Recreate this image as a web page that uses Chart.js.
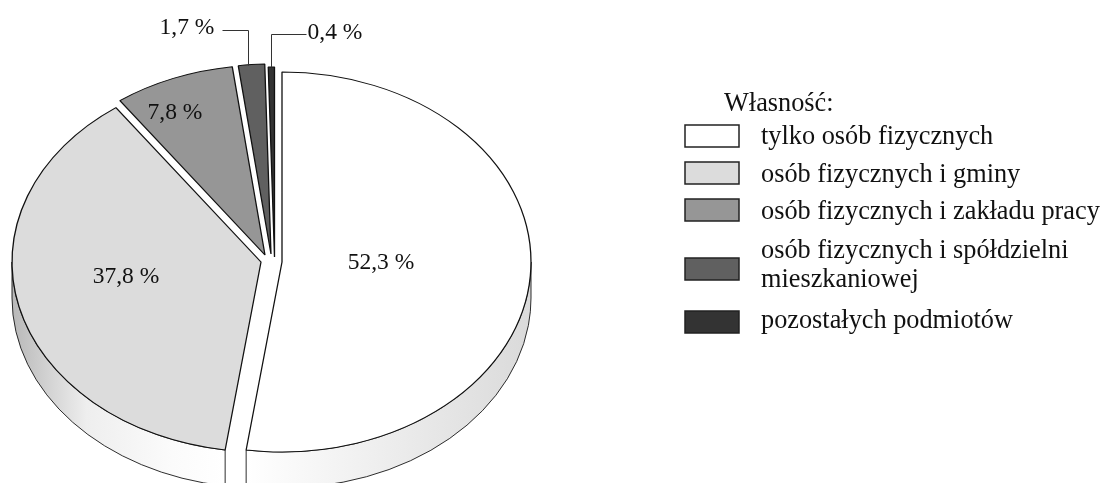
<!DOCTYPE html>
<html lang="pl">
<head>
<meta charset="utf-8">
<title>Własność</title>
<script src="https://cdn.jsdelivr.net/npm/chart.js@4/dist/chart.umd.min.js"></script>
<style>
    html, body { margin: 0; padding: 0; background: #fff; }
    canvas { display: block; }
</style>
</head>
<body>
<canvas id="pieChart" width="1107" height="483"></canvas>
<script>
const legendTitle = "Własność:";
const categories = [
    ["tylko osób fizycznych"],
    ["osób fizycznych i gminy"],
    ["osób fizycznych i zakładu pracy"],
    ["osób fizycznych i spółdzielni", "mieszkaniowej"],
    ["pozostałych podmiotów"]
];
const shares = [52.3, 37.8, 7.8, 1.7, 0.4];
const shareLabels = ["52,3 %", "37,8 %", "7,8 %", "1,7 %", "0,4 %"];
const sliceColors = ["#ffffff", "#dcdcdc", "#969696", "#606060", "#333333"];

// look of the pie: flattening, rim depth and how far each slice is pulled out
const flatten = 0.763;
const rimDepth = 36;
const pullX = [10.5, -10.5, -6.5, -0.5, 3];
const pullY = [1.5, 1.5, -5.5, -6.5, -3.5];
const rimStops = [
    [[0, "#ffffff"], [0.5, "#ededed"], [1, "#dadada"]],
    [[0, "#b8b8b8"], [0.18, "#d4d4d4"], [0.35, "#eeeeee"], [0.75, "#fbfbfb"], [1, "#ffffff"]]
];

const labelFont = "23.5px 'Liberation Serif'";
const legendFont = "26.3px 'Liberation Serif'";
const ink = "#111111";

// legend rows
const swatchTops = [125, 162, 199, 258, 311];
const rowBaselines = [[144], [182], [219], [258, 287], [328]];

// text beside or on the slices, [x, baseline]
const labelSpots = [[381, 269], [126, 283], [175, 119], [187, 34], [335, 39]];
const leaders = [null, null, null, [[222, 30], [248, 30], [248, 65]], [[306, 34], [271, 34], [271, 67]]];

function pivotY(chart) {
    return (chart.chartArea.top + chart.chartArea.bottom) / 2;
}

const flatPie = {
    id: "flatPie",
    afterDatasetsUpdate(chart) {
        chart.getDatasetMeta(0).data.forEach((arc, i) => {
            arc.x += pullX[i];
            arc.y += pullY[i] / flatten;
        });
    },
    beforeDatasetsDraw(chart) {
        const ctx = chart.ctx;
        const y0 = pivotY(chart);
        ctx.save();
        ctx.translate(0, y0);
        ctx.scale(1, flatten);
        ctx.translate(0, -y0);

        // rim of the two slices that reach the front of the pie
        chart.getDatasetMeta(0).data.forEach((arc, i) => {
            const from = Math.max(arc.startAngle, 0);
            const to = Math.min(arc.endAngle, Math.PI);
            if (to <= from) return;
            const x1 = arc.x + arc.outerRadius * Math.cos(from);
            const x2 = arc.x + arc.outerRadius * Math.cos(to);
            const fill = ctx.createLinearGradient(Math.min(x1, x2), 0, Math.max(x1, x2), 0);
            rimStops[i].forEach(stop => fill.addColorStop(stop[0], stop[1]));
            ctx.beginPath();
            ctx.arc(arc.x, arc.y, arc.outerRadius, from, to);
            ctx.arc(arc.x, arc.y + rimDepth / flatten, arc.outerRadius, to, from, true);
            ctx.closePath();
            ctx.fillStyle = fill;
            ctx.fill();
            ctx.strokeStyle = ink;
            ctx.lineWidth = 1;
            ctx.stroke();
        });
    },
    afterDatasetsDraw(chart) {
        chart.ctx.restore();
    },
    afterDraw(chart) {
        const ctx = chart.ctx;
        ctx.save();
        ctx.font = labelFont;
        ctx.fillStyle = ink;
        ctx.textBaseline = "alphabetic";

        ctx.textAlign = "center";
        shareLabels.forEach((text, i) => {
            ctx.fillText(text, labelSpots[i][0], labelSpots[i][1]);
        });

        ctx.strokeStyle = "#333333";
        ctx.lineWidth = 1;
        leaders.forEach(points => {
            if (!points) return;
            ctx.beginPath();
            points.forEach((p, j) => {
                if (j === 0) ctx.moveTo(p[0] + 0.5, p[1] + 0.5);
                else ctx.lineTo(p[0] + 0.5, p[1] + 0.5);
            });
            ctx.stroke();
        });

        ctx.font = legendFont;
        ctx.textAlign = "left";
        ctx.fillText(legendTitle, 724, 111);
        categories.forEach((lines, i) => {
            ctx.fillStyle = sliceColors[i];
            ctx.fillRect(685, swatchTops[i], 54, 22);
            ctx.strokeStyle = "#222222";
            ctx.lineWidth = 1.5;
            ctx.strokeRect(685, swatchTops[i], 54, 22);
            ctx.fillStyle = ink;
            lines.forEach((line, j) => ctx.fillText(line, 761, rowBaselines[i][j]));
        });
        ctx.restore();
    }
};

new Chart(document.getElementById("pieChart"), {
    type: "pie",
    data: {
        labels: categories.map(lines => lines.join(" ")),
        datasets: [{
            data: shares,
            backgroundColor: sliceColors,
            borderColor: ink,
            borderWidth: 1.3,
            radius: 249
        }]
    },
    options: {
        responsive: false,
        animation: false,
        events: [],
        layout: { padding: { top: 38, right: 564, bottom: 0, left: 0 } },
        plugins: {
            legend: { display: false },
            tooltip: { enabled: false }
        }
    },
    plugins: [flatPie]
});
</script>
</body>
</html>
